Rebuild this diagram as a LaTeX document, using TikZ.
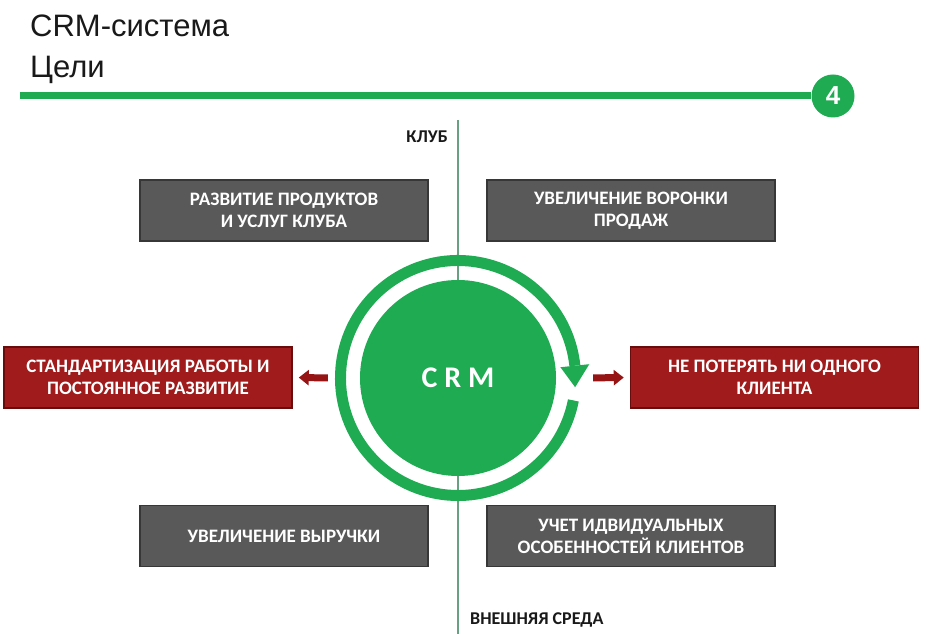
\documentclass[tikz,border=0pt]{standalone}
\usepackage{fontspec}
\setmainfont{Carlito}
\newfontfamily\titlefont{Liberation Sans}
\usetikzlibrary{arrows.meta}
\definecolor{crmgreen}{RGB}{30,171,82}
\definecolor{axisline}{RGB}{105,160,130}
\definecolor{boxgray}{RGB}{89,89,89}
\definecolor{boxgrayedge}{RGB}{55,55,55}
\definecolor{boxred}{RGB}{160,27,27}
\definecolor{boxrededge}{RGB}{105,12,12}
\definecolor{arrowred}{RGB}{150,20,20}
\definecolor{inkdark}{RGB}{25,25,25}
\tikzset{
  goalbox/.style={draw=boxgrayedge, line width=1.5pt, fill=boxgray, text=white,
    minimum width=288pt, minimum height=61pt, inner sep=0pt, align=center,
    font=\fontsize{19}{22}\selectfont\bfseries},
  redbox/.style={goalbox, draw=boxrededge, fill=boxred},
  redarrow/.style={draw=arrowred, line width=7pt, -{Triangle[length=10pt,width=15pt]}},
  axislabel/.style={text=inkdark, font=\fontsize{18}{20}\selectfont\bfseries, inner sep=0pt},
  titletext/.style={text=inkdark, font=\titlefont\fontsize{31}{34}\selectfont, inner sep=0pt}
}
\begin{document}
\begin{tikzpicture}[x=1pt,y=1pt]
\useasboundingbox (0,0) rectangle (926,634);
\fill[white] (0,0) rectangle (926,634);
% title
\node[titletext, anchor=base west] (t1) at (30,597) {CRM-система};
\node[titletext, anchor=base west] (t2) at (30,556) {Цели};
% header line and number
\node[circle, fill=crmgreen, minimum size=43pt, inner sep=0pt, text=white,
  font=\titlefont\bfseries\fontsize{26}{28}\selectfont] (num) at (833,538) {4};
\coordinate (hl) at (20,538);
\draw[crmgreen, line width=7pt] (hl) -- (num.west);
% vertical axis
\coordinate (vtop) at (458,514);
\coordinate (vbot) at (458,0);
\draw[axisline, line width=2pt] (vtop) -- (vbot);
\node[axislabel, anchor=east] (club) at (448,497) {КЛУБ};
\node[axislabel, anchor=west] (env) at (470,14) {ВНЕШНЯЯ СРЕДА};
% circle
\node[circle, minimum size=246pt, inner sep=0pt] (crm) at (458,256) {};
\draw[crmgreen, line width=11pt] (crm.center) ++(-11:117.5pt)
  arc[start angle=-11, end angle=-354, radius=117.5pt];
\fill[crmgreen, shift={(crm.center)}] (6:103pt) -- (6:132pt) -- (-4.5:117.5pt) -- cycle;
\node[circle, fill=crmgreen, minimum size=196pt, inner sep=0pt, text=white,
  font=\fontsize{30}{32}\selectfont\bfseries] (core) at (458,256) {C R M};
% boxes
\node[goalbox] (b1) at (284,423.5) {РАЗВИТИЕ ПРОДУКТОВ\\И УСЛУГ КЛУБА};
\node[goalbox] (b2) at (631,423.5) {УВЕЛИЧЕНИЕ ВОРОНКИ\\ПРОДАЖ};
\node[redbox] (b3) at (148,256.5) {СТАНДАРТИЗАЦИЯ РАБОТЫ И\\ПОСТОЯННОЕ РАЗВИТИЕ};
\node[redbox] (b4) at (774.5,256.5) {НЕ ПОТЕРЯТЬ НИ ОДНОГО\\КЛИЕНТА};
\node[goalbox] (b5) at (284,98) {УВЕЛИЧЕНИЕ ВЫРУЧКИ};
\node[goalbox] (b6) at (631,98) {УЧЕТ ИДВИДУАЛЬНЫХ\\ОСОБЕННОСТЕЙ КЛИЕНТОВ};
% arrows
\draw[redarrow, shorten <=7pt, shorten >=6pt] (crm.west) -- (b3.east);
\draw[redarrow, shorten <=12pt, shorten >=6pt] (crm.east) -- (b4.west);
\end{tikzpicture}
\end{document}
